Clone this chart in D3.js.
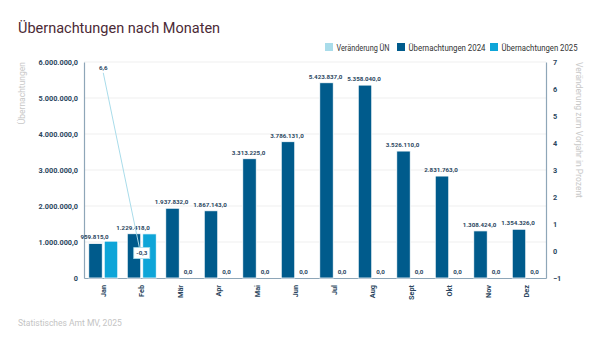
<!DOCTYPE html>
<html><head><meta charset="utf-8">
<script src="https://cdn.jsdelivr.net/npm/d3@7"></script>
<style>body{margin:0;background:#fff}svg{display:block;font-family:Roboto,"Liberation Sans",sans-serif}</style>
</head><body><svg id="c" width="600" height="347"></svg>
<script>
const months = ["Jan","Feb","Mär","Apr","Mai","Jun","Jul","Aug","Sept","Okt","Nov","Dez"];
const values2024 = [959815,1229418,1937832,1867143,3313225,3786131,5423837,5358040,3526110,2831763,1308424,1354326];
const values2025 = [1023163,1225730,0,0,0,0,0,0,0,0,0,0];
const change = [6.6,-0.3];
const leftTicks = [0,1000000,2000000,3000000,4000000,5000000,6000000];
const rightTicks = [-1,0,1,2,3,4,5,6,7];

const svg = d3.select("#c");
const L = 84, R = 546, T = 62, B = 278;
const fmt = d3.formatLocale({decimal:",",thousands:".",grouping:[3],minus:"-"});
const f1 = fmt.format(",.1f");
const C24 = "#005b8c", C25 = "#0ea5d8", CL = "#a9dcea", AX = "#8ea6b8", TXT = "#2b4660";

const x = d3.scaleBand().domain(months).range([L,R]);
const y = d3.scaleLinear().domain([0,6000000]).range([B,T]);
const y2 = d3.scaleLinear().domain([-1,7]).range([B,T]);
const bw = 13.5, gap = 2;

// title
svg.append("text").attr("x",18).attr("y",33).attr("font-size",14.5).attr("fill","#4b2a36").text("Übernachtungen nach Monaten");

// legend
const leg = [["Veränderung ÜN",CL,325,53],["Übernachtungen 2024",C24,397,77],["Übernachtungen 2025",C25,490,76]];
leg.forEach(d=>{
  svg.append("rect").attr("x",d[2]).attr("y",43).attr("width",8).attr("height",8).attr("fill",d[1]);
  svg.append("text").attr("x",d[2]+11.5).attr("y",50.5).attr("font-size",8.5).attr("fill","#333")
    .attr("textLength",d[3]).attr("lengthAdjust","spacingAndGlyphs").text(d[0]);
});

// grid
svg.append("g").selectAll("line").data(leftTicks.slice(1)).join("line")
  .attr("x1",L).attr("x2",R).attr("y1",d=>y(d)).attr("y2",d=>y(d)).attr("stroke","#efefef");

// axes
const gl = svg.append("g").attr("transform",`translate(${L},0)`).call(d3.axisLeft(y).tickValues(leftTicks).tickSize(0).tickPadding(6).tickFormat(d=>d===0?"0":f1(d)));
const gr = svg.append("g").attr("transform",`translate(${R},0)`).call(d3.axisRight(y2).tickValues(rightTicks).tickSize(0).tickPadding(7).tickFormat(d3.format("d")));
const gb = svg.append("g").attr("transform",`translate(0,${B})`).call(d3.axisBottom(x).tickSize(0).tickPadding(6));
[gl,gr,gb].forEach(g=>{
  g.select(".domain").attr("stroke",AX).attr("stroke-width",1.2);
  g.selectAll("text").attr("font-size",7.3).attr("font-weight","bold").attr("fill",TXT).attr("font-family","Roboto,sans-serif");
});
gb.selectAll("text").attr("transform","rotate(-90)").attr("text-anchor","end").attr("dy","0.35em").attr("x",-7).attr("y",0);

// axis titles
svg.append("text").attr("transform","translate(25,62) rotate(-90)").attr("text-anchor","end").attr("font-size",8.5).attr("fill","#c8c8c8").text("Übernachtungen");
svg.append("text").attr("transform","translate(576,62) rotate(90)").attr("text-anchor","start").attr("font-size",8.5).attr("fill","#c8c8c8").text("Veränderung zum Vorjahr in Prozent");

// bars
const cx = m => x(m)+x.bandwidth()/2;
svg.append("g").selectAll("rect").data(months).join("rect")
  .attr("x",m=>cx(m)-gap/2-bw).attr("width",bw)
  .attr("y",(m,i)=>y(values2024[i])).attr("height",(m,i)=>B-y(values2024[i]))
  .attr("fill",C24).attr("stroke","#fff").attr("stroke-width",0.8);
svg.append("g").selectAll("rect").data(months).join("rect")
  .attr("x",m=>cx(m)+gap/2).attr("width",bw)
  .attr("y",(m,i)=>y(values2025[i])).attr("height",(m,i)=>B-y(values2025[i]))
  .attr("fill",C25).attr("stroke","#fff").attr("stroke-width",0.8);

// labels
svg.append("g").selectAll("text").data(months).join("text")
  .attr("x",m=>cx(m)-gap/2-bw/2-1).attr("y",(m,i)=>y(values2024[i])-4)
  .attr("text-anchor","middle").attr("font-size",6.2).attr("font-weight","bold").attr("fill",TXT)
  .text((m,i)=>f1(values2024[i]));
svg.append("g").selectAll("text").data(months.filter((m,i)=>values2025[i]===0)).join("text")
  .attr("x",m=>cx(m)+gap/2+bw/2).attr("y",B-4)
  .attr("text-anchor","middle").attr("font-size",6.2).attr("font-weight","bold").attr("fill",TXT)
  .text("0,0");

// line
const lineData = change.map((v,i)=>[cx(months[i]),y2(v)]);
svg.append("path").attr("d",d3.line()(lineData)).attr("fill","none").attr("stroke",CL).attr("stroke-width",1);
svg.append("text").attr("x",lineData[0][0]).attr("y",lineData[0][1]-3).attr("text-anchor","middle").attr("font-size",6.2).attr("font-weight","bold").attr("fill",TXT).text(f1(change[0]));
const lb = svg.append("g").attr("transform",`translate(${lineData[1][0]},${lineData[1][1]-6})`);
lb.append("rect").attr("x",-8).attr("y",-5.5).attr("width",16).attr("height",11).attr("fill","#fff").attr("stroke",CL).attr("stroke-width",0.8);
lb.append("text").attr("y",2.2).attr("text-anchor","middle").attr("font-size",6.2).attr("font-weight","bold").attr("fill",TXT).text(f1(change[1]));

// footer
svg.append("text").attr("x",18).attr("y",326).attr("font-size",8.5).attr("fill","#c4c4c4").text("Statistisches Amt MV, 2025");
</script></body></html>
